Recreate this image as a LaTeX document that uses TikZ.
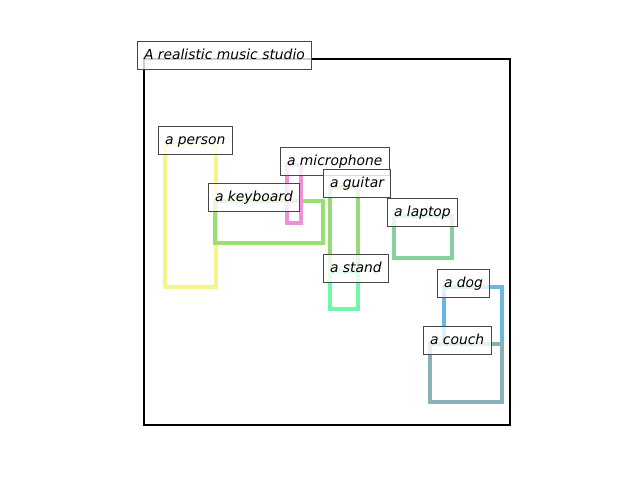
\documentclass[tikz,border=0pt]{standalone}
\usepackage{fontspec}
\setmainfont{DejaVu Sans}
\definecolor{cperson}{HTML}{F6F58A}
\definecolor{ckeyboard}{HTML}{98E070}
\definecolor{cmicrophone}{HTML}{F090D8}
\definecolor{cguitar}{HTML}{98D878}
\definecolor{claptop}{HTML}{88D0A0}
\definecolor{cstand}{HTML}{70F8A8}
\definecolor{cdog}{HTML}{68B8E0}
\definecolor{ccouch}{HTML}{88B0B8}
\begin{document}
\begin{tikzpicture}
          [x=0.75pt,y=-0.75pt,
           box/.style={line width=2.3pt},
           lbl/.style={draw=black!72, line width=0.8pt, fill=white, fill opacity=0.8,
             text opacity=1, inner sep=5.2pt, text height=8pt, text depth=2.5pt,
             anchor=text, font=\fontsize{10.4}{12}\selectfont\itshape}]
        \useasboundingbox (0,0) rectangle (640,480);

        \coordinate (studio) at (144,59);
        \draw[line width=1.6pt] (studio) rectangle (510,425);

        \foreach \obj/\x/\y/\xx/\yy in {person/165/144/216/287, keyboard/215/201/323/243,
            microphone/287/165/301/223, guitar/330/187/358/271, laptop/394/216/452/258,
            stand/330/272/358/309, dog/444/287/502/344, couch/430/344/502/402}
          {
          \coordinate (\obj) at (\x,\y);
          \draw[box, c\obj] (\obj) rectangle (\xx,\yy);
          }

        \node[lbl] (lstudio) at (studio) {A realistic music studio};

        \foreach \obj in {person, keyboard, microphone, guitar, laptop, stand, dog, couch}
          \node[lbl] (l\obj) at (\obj) {a \obj};
      \end{tikzpicture}
\end{document}
